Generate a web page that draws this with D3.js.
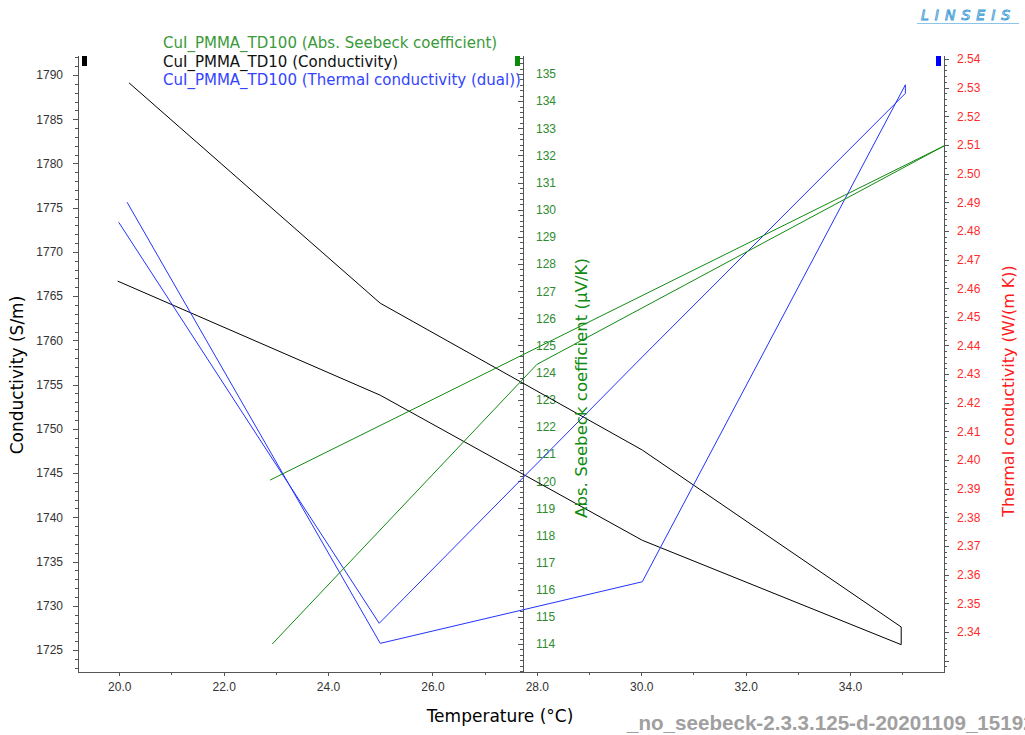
<!DOCTYPE html>
<meta charset="utf-8">
<script src="https://d3js.org/d3.v7.min.js"></script>
<style type="text/css">
body { margin: 0; background: #fff; }
svg { font-family: "DejaVu Sans", sans-serif; }
.axis path, .axis line { stroke: #555; shape-rendering: crispEdges; }
.axis text { font-size: 12px; }
.series { fill: none; stroke-width: 1px; }
</style>
<body></body>
<script>

// temperature (°C) and values (loops: heating then cooling)
var condTemp  = [20.19, 25.0, 30.02, 34.98, 34.98, 30.02, 25.0, 19.97];
var condValue = [1789.1, 1764.2, 1747.6, 1727.6, 1725.6, 1737.4, 1753.8, 1766.7];

var thermTemp  = [20.15, 25.0, 30.02, 35.06, 35.06, 30.02, 24.98, 19.99];
var thermValue = [2.490, 2.336, 2.3575, 2.531, 2.528, 2.436, 2.343, 2.483];

var seebTemp  = [22.93, 28.0, 35.8, 22.89];
var seebValue = [114.0, 124.3, 132.35, 120.04];

var xTicks = [20, 22, 24, 26, 28, 30, 32, 34];
var condTicks = d3.range(1725, 1791, 5);
var seebTicks = d3.range(114, 136, 1);
var thermTicks = d3.range(2.34, 2.5401, 0.01);

var legendLabels = [
    {text: "CuI_PMMA_TD100 (Abs. Seebeck coefficient)", color: "#3a9a3a"},
    {text: "CuI_PMMA_TD10 (Conductivity)", color: "#111"},
    {text: "CuI_PMMA_TD100 (Thermal conductivity (dual))", color: "#3344ff"}
];

function draw() {

    var W = 1025, H = 735;
    var pLeft = 78, pRight = 944, pTop = 55, pBottom = 672, pMid = 523;

    var svg = d3.select("body").append("svg")
        .attr("width", W)
        .attr("height", H);

    var xScale = d3.scaleLinear().domain([19.21, 35.80]).range([pLeft, pRight]);
    var yCond = d3.scaleLinear().domain([1722.51, 1792.26]).range([pBottom, pTop]);
    var ySeeb = d3.scaleLinear().domain([112.97, 135.70]).range([pBottom, pTop]);
    var yTherm = d3.scaleLinear().domain([2.326, 2.5414]).range([pBottom, pTop]);

    svg.append("defs").append("clipPath").attr("id", "plotClip")
        .append("rect")
        .attr("x", pLeft).attr("y", pTop)
        .attr("width", pRight - pLeft).attr("height", pBottom - pTop);

    // x axis
    svg.append("g")
        .attr("class", "axis")
        .attr("transform", "translate(0," + pBottom + ")")
        .call(d3.axisBottom(xScale).tickValues(d3.range(20, 36, 1)).tickSize(3).tickFormat(""))
        .select(".domain").remove();
    var xAxisGroup = svg.append("g")
        .attr("class", "axis")
        .attr("transform", "translate(0," + pBottom + ")")
        .call(d3.axisBottom(xScale).tickValues(xTicks).tickSize(4).tickSizeOuter(0).tickPadding(6).tickFormat(d3.format(".1f")));
    xAxisGroup.selectAll("text").attr("fill", "#333");

    // left axis (conductivity)
    svg.append("g")
        .attr("class", "axis")
        .attr("transform", "translate(" + pLeft + ",0)")
        .call(d3.axisLeft(yCond).tickValues(d3.range(1723, 1793, 1)).tickSize(3).tickFormat(""))
        .select(".domain").remove();
    var condAxis = svg.append("g")
        .attr("class", "axis")
        .attr("transform", "translate(" + pLeft + ",0)")
        .call(d3.axisLeft(yCond).tickValues(condTicks).tickSize(5).tickSizeOuter(0).tickPadding(10).tickFormat(d3.format("d")));
    condAxis.selectAll("text").attr("fill", "#333");

    // middle axis (Seebeck): ticks on the left, labels on the right
    svg.append("g")
        .attr("class", "axis")
        .attr("transform", "translate(" + pMid + ",0)")
        .call(d3.axisLeft(ySeeb).tickValues(d3.range(113.0, 135.7, 0.2)).tickSize(3).tickFormat(""))
        .select(".domain").remove();
    svg.append("g")
        .attr("class", "axis")
        .attr("transform", "translate(" + pMid + ",0)")
        .call(d3.axisLeft(ySeeb).tickValues(seebTicks).tickSize(5).tickSizeOuter(0).tickFormat(""));
    var seebAxis = svg.append("g")
        .attr("transform", "translate(" + pMid + ",0)")
        .call(d3.axisRight(ySeeb).tickValues(seebTicks).tickSize(0).tickPadding(13).tickFormat(d3.format("d")));
    seebAxis.select(".domain").remove();
    seebAxis.selectAll("text").attr("fill", "#2e8b2e").style("font-size", "12px");

    // right axis (thermal conductivity)
    svg.append("g")
        .attr("class", "axis")
        .attr("transform", "translate(" + pRight + ",0)")
        .call(d3.axisRight(yTherm).tickValues(d3.range(2.328, 2.5414, 0.002)).tickSize(3).tickFormat(""))
        .select(".domain").remove();
    svg.append("g")
        .attr("class", "axis")
        .attr("transform", "translate(" + pRight + ",0)")
        .call(d3.axisRight(yTherm).tickValues([2.33]).tickSize(5).tickFormat(""))
        .select(".domain").remove();
    var thermAxis = svg.append("g")
        .attr("class", "axis")
        .attr("transform", "translate(" + pRight + ",0)")
        .call(d3.axisRight(yTherm).tickValues(thermTicks).tickSize(5).tickSizeOuter(0).tickPadding(8).tickFormat(d3.format(".2f")));
    thermAxis.selectAll("text").attr("fill", "#ff2a2a");

    // axis colour markers at the top
    var markers = [{x: pLeft + 4, color: "#000"}, {x: pMid - 8, color: "#0a8a0a"}, {x: pRight - 8, color: "#0000ff"}];
    svg.selectAll(".marker")
        .data(markers)
        .enter()
        .append("rect")
        .attr("class", "marker")
        .attr("x", function(d) { return d.x; })
        .attr("y", pTop + 1)
        .attr("width", 5)
        .attr("height", 10)
        .attr("fill", function(d) { return d.color; });

    // series lines
    var plot = svg.append("g").attr("clip-path", "url(#plotClip)");

    function pairs(xs, ys) {
        return xs.map(function(t, i) { return [t, ys[i]]; });
    }

    var seebLine = d3.line().x(function(d) { return xScale(d[0]); }).y(function(d) { return ySeeb(d[1]); });
    var condLine = d3.line().x(function(d) { return xScale(d[0]); }).y(function(d) { return yCond(d[1]); });
    var thermLine = d3.line().x(function(d) { return xScale(d[0]); }).y(function(d) { return yTherm(d[1]); });

    plot.append("path")
        .attr("class", "series")
        .attr("d", condLine(pairs(condTemp, condValue)))
        .attr("stroke", "#000");

    plot.append("path")
        .attr("class", "series")
        .attr("d", thermLine(pairs(thermTemp, thermValue)))
        .attr("stroke", "#2233ff");

    plot.append("path")
        .attr("class", "series")
        .attr("d", seebLine(pairs(seebTemp, seebValue)))
        .attr("stroke", "#108a10");

    // legend
    svg.selectAll(".legendText")
        .data(legendLabels)
        .enter()
        .append("text")
        .attr("class", "legendText")
        .attr("x", 163)
        .attr("y", function(d, i) { return 48 + i * 18.5; })
        .attr("fill", function(d) { return d.color; })
        .style("font-size", "15px")
        .text(function(d) { return d.text; });

    // axis titles
    svg.append("text")
        .attr("transform", "translate(23,375) rotate(-90)")
        .attr("text-anchor", "middle")
        .style("font-size", "17px")
        .attr("fill", "#000")
        .text("Conductivity (S/m)");

    svg.append("text")
        .attr("transform", "translate(587,388) rotate(-90)")
        .attr("text-anchor", "middle")
        .style("font-size", "16.6px")
        .attr("fill", "#108a10")
        .text("Abs. Seebeck coefficient (\u00b5V/K)");

    svg.append("text")
        .attr("transform", "translate(1014,391) rotate(-90)")
        .attr("text-anchor", "middle")
        .style("font-size", "16px")
        .attr("fill", "#ff1a1a")
        .text("Thermal conductivity (W/(m K))");

    svg.append("text")
        .attr("x", 500)
        .attr("y", 722)
        .attr("text-anchor", "middle")
        .style("font-size", "17px")
        .attr("fill", "#000")
        .text("Temperature (\u00b0C)");

    // file name watermark
    svg.append("text")
        .attr("x", 627)
        .attr("y", 730)
        .style("font-size", "20.6px")
        .style("font-weight", "bold")
        .style("font-family", "'Liberation Sans', Arial, sans-serif")
        .attr("fill", "#a0a0a0")
        .text("_no_seebeck-2.3.3.125-d-20201109_15192");

    // logo
    svg.append("text")
        .attr("x", 921)
        .attr("y", 20)
        .style("font-size", "14px")
        .style("font-style", "italic")
        .style("letter-spacing", "6px")
        .attr("fill", "none")
        .attr("stroke", "#3d9bd6")
        .attr("stroke-width", 0.9)
        .text("LINSEIS");
    svg.append("line")
        .attr("x1", 917).attr("x2", 1019)
        .attr("y1", 23.5).attr("y2", 23.5)
        .attr("stroke", "#8cc4ea")
        .attr("stroke-width", 1);
}

draw();

</script>
